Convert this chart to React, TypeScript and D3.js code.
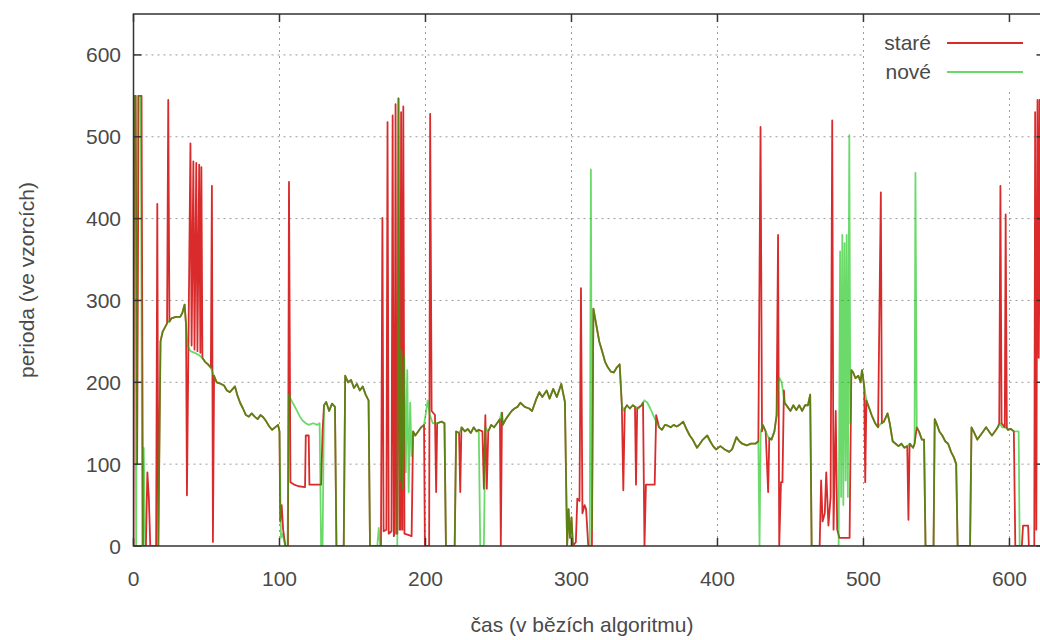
import React from "react";
import * as d3 from "d3";

type P = [number, number];

const xTicks = [0, 100, 200, 300, 400, 500, 600];
const yTicks = [0, 100, 200, 300, 400, 500, 600];
const xTitle = "čas (v bězích algoritmu)";
const yTitle = "perioda (ve vzorcích)";
const seriesNames = ["staré", "nové"];

const nove: P[] = [
  [0,550],[1,550],[1.8,0],[2.8,550],[5,550],[6,0],[7,120],[8,0],[17,0],[18.5,250],[20,262],[23,272],[26,278],[29,280],[32,280],[33.5,285],[35,295],[36,270],[37,245],[39,238],[42,236],[45,233],[47,230],[49,225],[51,222],[53,218],[55,208],[57,200],[60,198],[62,196],[64,190],[66,188],[68,192],[69.5,195],[71,185],[73,175],[75,168],[77,160],[79,158],[81,162],[83,158],[85,155],[87,160],[89,157],[91,152],[93,146],[95,142],[97,145],[99,148],[100,140],[101,10],[102,15],[104,0],[105.5,0],[106.5,185],[108,178],[110,172],[112,165],[114,158],[116,153],[118,150],[120,148],[123,150],[126,148],[127.5,150],[128.5,0],[129.5,0],[130.5,172],[132,176],[134,165],[136,174],[138,170],[139,0],[144,0],[145,208],[147,200],[149,203],[151,193],[153,198],[155,190],[157,195],[159,185],[161,178],[162,0],[167,0],[168,22],[169,0],[180.7,0],[181.5,547],[182.5,80],[183.5,240],[184.5,70],[185.5,232],[186.5,90],[187.5,215],[188.5,66],[189.5,175],[190.5,110],[191.5,140],[193,135],[195,140],[197,145],[199,148],[200.5,165],[201.5,178],[203,160],[205,150],[208,150],[211,152],[213,150],[214,0],[220,0],[221,140],[223,138],[225,145],[227,140],[229,143],[231,138],[233,145],[235,140],[236.5,142],[237.5,0],[240,0],[241,145],[243,140],[245,148],[247,145],[249,150],[251,155],[252,163],[253,148],[255,155],[257,160],[259,165],[261,168],[263,170],[265,175],[268,170],[271,168],[273,165],[276,180],[278,188],[280,182],[283,190],[285,180],[287.5,192],[290,182],[293,198],[295.5,176],[297,0],[298,45],[299,10],[300,35],[301,0],[312.5,0],[313.3,460],[314,20],[315,290],[317,270],[319,250],[321,238],[323,225],[325,218],[327,213],[329,212],[331,218],[333,222],[334.5,172],[336,165],[338,172],[340,168],[342,172],[344,170],[346,168],[348,172],[350,178],[352,175],[354,168],[356,160],[358,152],[360,145],[362,142],[364,148],[366,147],[368,145],[370,148],[372,146],[374,148],[376.5,152],[379,142],[381,135],[383,130],[386,120],[388,125],[390,130],[393,135],[395,128],[397,122],[399,118],[402,122],[405,118],[408,115],[410,118],[413,133],[415,128],[417,125],[420,123],[423,125],[426,125],[428,128],[428.8,0],[429.6,140],[431,148],[433,140],[435,132],[437,130],[439,140],[440.5,160],[441.5,200],[442.5,205],[444,200],[446,175],[448,170],[450,165],[452,172],[454,166],[456,172],[458,165],[460,172],[462,172],[463.5,185],[464.5,0],[483,0],[484,360],[484.7,60],[485.5,380],[486.2,50],[487,370],[487.8,80],[488.5,380],[489.3,60],[490.3,502],[491,150],[491.7,215],[493,212],[494.5,205],[496.5,208],[498,200],[499,215],[500.5,195],[502,178],[504,168],[506,158],[508,150],[510,145],[512,150],[514,152],[516.5,162],[518,150],[520,128],[522,125],[524,122],[526,125],[528,120],[530,122],[532,125],[534,120],[535,125],[535.6,456],[536.5,145],[538,140],[540,130],[541.5,130],[542.5,0],[548,0],[548.8,155],[550,150],[552,140],[554,135],[556,128],[558,125],[560,115],[562,108],[563.5,100],[564.5,0],[573,0],[574,145],[576,138],[578,130],[580,135],[582,140],[584,145],[586,140],[588,135],[590,140],[592,145],[593.5,150],[595,145],[597,145],[599,142],[601,143],[603,140],[606.3,140],[607,0],[624,0]
];

const stare: P[] = [
  [0,0],[0.5,550],[1.5,550],[2.5,100],[3.5,550],[5.5,550],[6.5,0],[8.5,0],[9.5,90],[10.5,60],[11.5,0],[15.5,0],[16.3,418],[17,0],[18.5,250],[20,262],[23,272],[23.8,545],[24.6,274],[26,278],[29,280],[32,280],[33.5,285],[35,295],[36,270],[36.6,62],[39,492],[39.8,245],[41,470],[41.8,240],[43,468],[43.8,238],[45,466],[45.8,236],[46.5,463],[47.2,230],[49,225],[51,222],[53,218],[53.7,440],[54.4,5],[55.2,208],[57,200],[60,198],[62,196],[64,190],[66,188],[68,192],[69.5,195],[71,185],[73,175],[75,168],[77,160],[79,158],[81,162],[83,158],[85,155],[87,160],[89,157],[91,152],[93,146],[95,142],[97,145],[99,148],[100,140],[100.5,30],[101.5,50],[102.5,20],[104,0],[105.8,0],[106.5,445],[107.5,78],[110,75],[113,73],[117.5,72],[118,135],[120,135],[120.5,75],[128.5,75],[129.5,140],[130.5,172],[132,176],[134,165],[136,174],[138,170],[139,0],[144,0],[145,208],[147,200],[149,203],[151,193],[153,198],[155,190],[157,195],[159,185],[161,178],[162,0],[169.5,0],[170.5,401],[171.3,18],[173.2,20],[174,518],[174.8,15],[176.7,18],[177.5,526],[178.3,12],[178.8,15],[179.5,540],[180.2,15],[180.7,15],[181.5,547],[182.3,20],[182.7,20],[183.3,530],[184,20],[184.2,20],[184.8,537],[185.6,15],[190.5,12],[191.5,140],[193,135],[195,140],[197,145],[199,148],[199.6,0],[202.5,0],[203.2,528],[204.2,165],[206.5,160],[207.3,66],[208,150],[211,152],[213,150],[214,0],[220,0],[221,140],[223,138],[223.8,66],[224.6,145],[227,140],[229,143],[231,138],[233,145],[235,140],[236.5,142],[239,140],[240,70],[241,160],[242,70],[243,140],[245,148],[247,145],[249,150],[251,155],[251.6,0],[252.4,163],[253,148],[255,155],[257,160],[259,165],[261,168],[263,170],[265,175],[268,170],[271,168],[273,165],[276,180],[278,188],[280,182],[283,190],[285,180],[287.5,192],[290,182],[293,198],[295.5,176],[297,0],[298,45],[299,10],[300,35],[301,0],[303,5],[304,58],[305.5,55],[306.5,315],[307.5,40],[309,50],[310,45],[311.5,0],[314,0],[315,290],[317,270],[319,250],[321,238],[323,225],[325,218],[327,213],[329,212],[331,218],[333,222],[334.5,172],[335.5,68],[336.5,168],[338,172],[340,168],[342,172],[343.5,170],[344.2,75],[345,168],[348,172],[349,175],[350,0],[351,75],[357,75],[358,160],[360,145],[362,142],[364,148],[366,147],[368,145],[370,148],[372,146],[374,148],[376.5,152],[379,142],[381,135],[383,130],[386,120],[388,125],[390,130],[393,135],[395,128],[397,122],[399,118],[402,122],[405,118],[408,115],[410,118],[413,133],[415,128],[417,125],[420,123],[423,125],[426,125],[428,128],[429.5,512],[430.5,140],[431,148],[433,140],[434.7,66],[435.5,132],[437,130],[439,140],[440.5,160],[441.5,380],[442.3,0],[443.5,78],[444.5,78],[445.5,190],[446,175],[448,170],[450,165],[452,172],[454,166],[456,172],[458,165],[460,172],[462,172],[463.5,185],[464.5,0],[470,0],[471,80],[472,30],[473.5,40],[474.5,90],[476,25],[477.5,60],[478.6,520],[479.5,20],[481,165],[482,20],[483.5,10],[490.5,10],[491.7,215],[493,212],[494.5,205],[496.5,208],[498,200],[499,215],[500.5,195],[501.2,78],[502,178],[504,168],[506,158],[508,150],[510,145],[511.9,432],[512.6,150],[514,152],[516.5,162],[518,150],[520,128],[522,125],[524,122],[526,125],[528,120],[530,122],[530.8,32],[531.6,125],[534,120],[535,125],[536.5,145],[538,140],[540,130],[541.5,130],[542.5,0],[548,0],[548.8,155],[550,150],[552,140],[554,135],[556,128],[558,125],[560,115],[562,108],[563.5,100],[564.5,0],[573,0],[574,145],[576,138],[578,130],[580,135],[582,140],[584,145],[586,140],[588,135],[590,140],[592,145],[593,150],[593.8,440],[594.6,150],[596.8,145],[597.4,405],[598.2,145],[599,142],[601,143],[603,140],[604,0],[608.5,0],[609.3,25],[612.8,25],[613.3,0],[617,0],[617.6,530],[618.4,20],[619.2,545],[620,230],[620.6,545],[621.5,230],[623,160],[624,160]
];

const W = 1040;
const H = 640;
const left = 133.5;
const right = 1044.5;
const top = 14;
const bottom = 546;

export default function App() {
  const x = d3.scaleLinear().domain([0, 624]).range([left, right]);
  const y = d3.scaleLinear().domain([0, 650]).range([bottom, top]);
  const line = d3.line<P>().x((d) => x(d[0])).y((d) => y(d[1]));
  const font = "'Liberation Sans', Arial, sans-serif";
  const tick = 8;
  const redC = "#d92b2b";
  const greenC = "#00c000";
  return (
    <svg width={W} height={H} style={{ position: "absolute", left: 0, top: 0, background: "#fff" }}>
      <defs>
        <clipPath id="plot">
          <rect x={left} y={top} width={right - left} height={bottom - top} />
        </clipPath>
      </defs>
      <rect x={0} y={0} width={W} height={H} fill="#fff" />
      <g stroke="#9a9a9a" strokeWidth={1} strokeDasharray="2,4">
        {yTicks.filter((t) => t > 0).map((t) => (
          <line key={"gy" + t} x1={left} x2={right} y1={y(t)} y2={y(t)} />
        ))}
        {xTicks.filter((t) => t > 0).map((t) => (
          <line key={"gx" + t} x1={x(t)} x2={x(t)} y1={top} y2={bottom} />
        ))}
      </g>
      <g clipPath="url(#plot)" fill="none" strokeLinejoin="round">
        <path d={line(stare) || ""} stroke={redC} strokeWidth={1.8} />
        <path d={line(nove) || ""} stroke={greenC} strokeWidth={1.8} strokeOpacity={0.58} />
      </g>
      <rect x={864} y={top + 1} width={right - 864} height={74} fill="#fff" />
      <g fontFamily={font} fontSize={21} fill="#4a4a4a" textAnchor="end">
        <text x={931} y={50}>{seriesNames[0]}</text>
        <text x={931} y={79}>{seriesNames[1]}</text>
      </g>
      <line x1={947} x2={1023} y1={43} y2={43} stroke={redC} strokeWidth={1.8} />
      <line x1={947} x2={1023} y1={72} y2={72} stroke={greenC} strokeWidth={1.8} strokeOpacity={0.6} />
      <rect x={left} y={top} width={right - left} height={bottom - top} fill="none" stroke="#333" strokeWidth={1.5} />
      <g stroke="#333" strokeWidth={1.5}>
        {xTicks.map((t) => (
          <g key={"tx" + t}>
            <line x1={x(t)} x2={x(t)} y1={bottom} y2={bottom - tick} />
            <line x1={x(t)} x2={x(t)} y1={top} y2={top + tick} />
          </g>
        ))}
        {yTicks.map((t) => (
          <g key={"ty" + t}>
            <line x1={left} x2={left + tick} y1={y(t)} y2={y(t)} />
            <line x1={right} x2={right - tick} y1={y(t)} y2={y(t)} />
          </g>
        ))}
      </g>
      <g fontFamily={font} fontSize={21} fill="#4a4a4a">
        {xTicks.map((t) => (
          <text key={"lx" + t} x={x(t)} y={586} textAnchor="middle">{t}</text>
        ))}
        {yTicks.map((t) => (
          <text key={"ly" + t} x={121} y={y(t) + 7.5} textAnchor="end">{t}</text>
        ))}
      </g>
      <text x={582} y={632} fontFamily={font} fontSize={21} fill="#4a4a4a" textAnchor="middle">{xTitle}</text>
      <text transform={`translate(34,${(top + bottom) / 2}) rotate(-90)`} fontFamily={font} fontSize={21} fill="#4a4a4a" textAnchor="middle">{yTitle}</text>
    </svg>
  );
}
